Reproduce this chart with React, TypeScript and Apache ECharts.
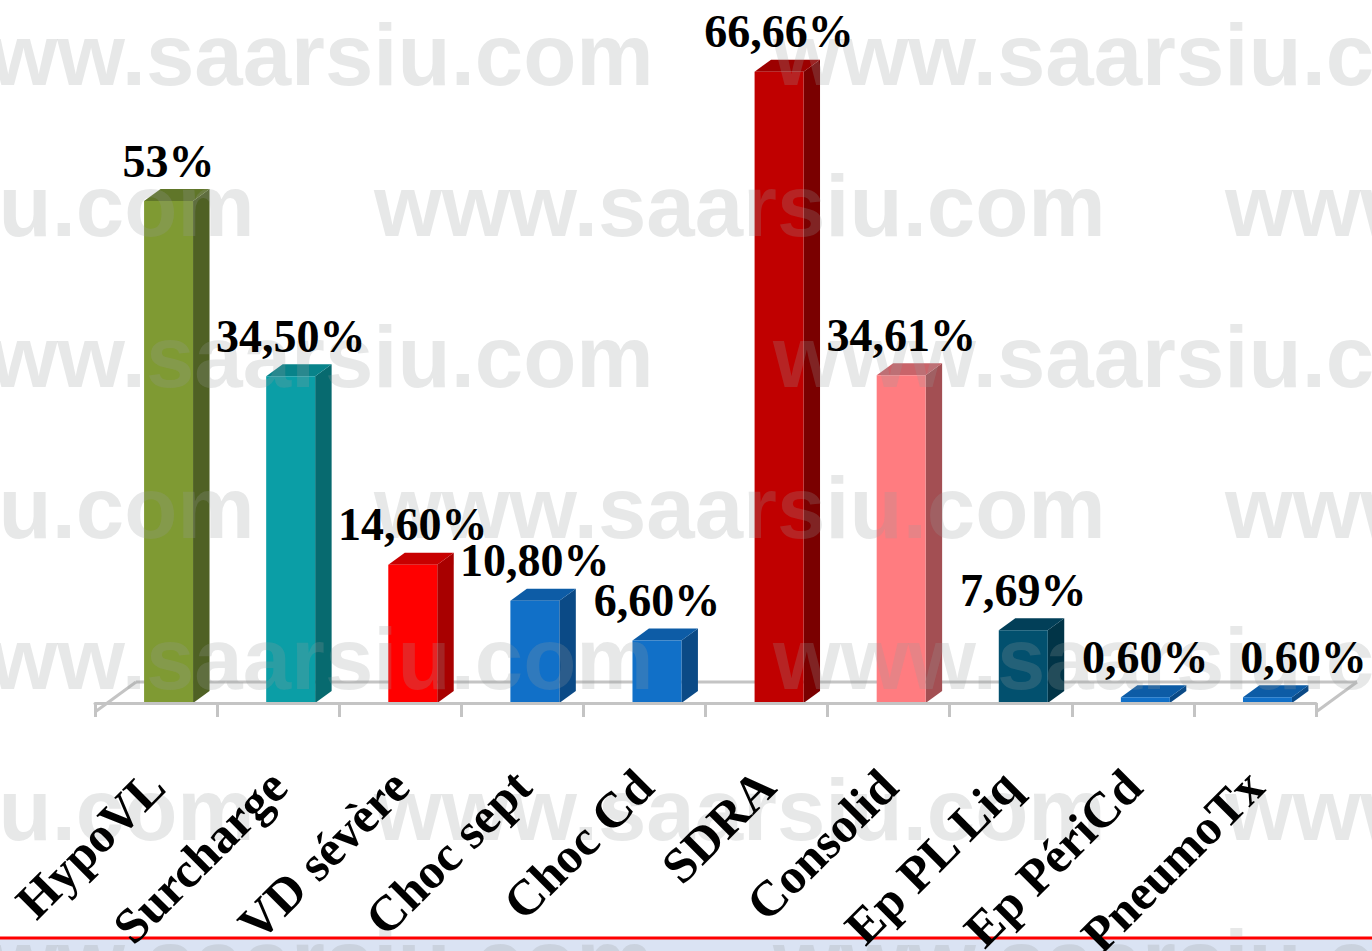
import React, { useEffect, useRef } from "react";
import * as echarts from "echarts";

const categories = [
  "HypoVL",
  "Surcharge",
  "VD sévère",
  "Choc sept",
  "Choc Cd",
  "SDRA",
  "Consolid",
  "Ep PL Liq",
  "Ep PériCd",
  "PneumoTx",
];
const percentages = [53, 34.5, 14.6, 10.8, 6.6, 66.66, 34.61, 7.69, 0.6, 0.6];
const watermarkText = "www.saarsiu.com";

const frontColors = ["#7f9a33", "#0b9ea6", "#ff0000", "#1170c8", "#1170c8", "#c00000", "#ff7c80", "#02506e", "#1170c8", "#1170c8"];
const sideColors = ["#4f6124", "#076a6f", "#a80000", "#0b4a86", "#0b4a86", "#7a0000", "#a34f53", "#013447", "#0b4a86", "#0b4a86"];
const topColors = ["#607629", "#08838a", "#c80000", "#0d5ca6", "#0d5ca6", "#9c0000", "#c9646a", "#023f58", "#0d5ca6", "#0d5ca6"];
// manual horizontal nudge of value labels (last label moved right in the original)
const labelNudge = [0, 0, 0, 0, 0, 0, 0, 0, 0, 36];

const SERIF = '"Liberation Serif", "Times New Roman", serif';

function fmt(v: number): string {
  if (Math.round(v) === v) return `${v}%`;
  return v.toFixed(2).replace(".", ",") + "%";
}

function buildWatermark(): any[] {
  const els: any[] = [];
  const fontSize = 87;
  const period = 851;
  for (let i = 0; i < 7; i++) {
    const baseline = 81 + 151 * i;
    const start = i % 2 === 0 ? -78 : -477;
    for (let x = start; x < 1372; x += period) {
      els.push({
        type: "text",
        x,
        y: baseline - 0.3 * fontSize,
        z: 30,
        silent: true,
        style: {
          text: watermarkText,
          fontSize,
          fontWeight: "bold",
          fontFamily: '"Liberation Sans", Arial, sans-serif',
          fill: "rgba(150,155,155,0.23)",
          align: "left",
          verticalAlign: "middle",
        },
      });
    }
  }
  return els;
}

export default function App() {
  const ref = useRef<HTMLDivElement>(null);
  useEffect(() => {
    if (!ref.current) return;
    const chart = echarts.init(ref.current, null, { renderer: "svg" });
    const FLOOR_DX = 41;
    const FLOOR_DY = 30;
    const AXIS_OFFSET = 9;
    const DEPTH_DY = 12;
    const geom = (api: any) => {
      const idx = api.value(0);
      const val = api.value(1);
      const base = api.coord([idx, 0]);
      const topP = api.coord([idx, val]);
      const bw = api.size([1, 0])[0];
      const fl = base[0] - 0.098 * bw;
      const w = 0.401 * bw;
      return { val, y0: base[1], y1: topP[1], fl, w, fr: fl + w, dx: 0.135 * bw };
    };
    const option: any = {
      animation: false,
      backgroundColor: "#ffffff",
      grid: { left: 95, right: 56, top: 40, bottom: 248, containLabel: false, outerBoundsMode: "none" },
      xAxis: {
        type: "category",
        data: categories,
        boundaryGap: true,
        offset: AXIS_OFFSET,
        z: 60,
        axisLine: { show: true, lineStyle: { color: "#c4c4c4", width: 3 } },
        axisTick: { show: true, length: 14, interval: 0, lineStyle: { color: "#c4c4c4", width: 3 } },
        axisLabel: {
          interval: 0,
          rotate: 45,
          margin: 66,
          color: "#000",
          fontFamily: SERIF,
          fontWeight: "bold",
          fontSize: 50,
          hideOverlap: false,
        },
        splitLine: { show: false },
      },
      yAxis: { type: "value", min: 0, max: 70, show: false },
      graphic: [
        ...buildWatermark(),
        {
          type: "rect",
          left: 0,
          top: 939,
          z: 20,
          shape: { width: 1372, height: 12 },
          style: { fill: "#dae3f3" },
        },
        {
          type: "line",
          z: 21,
          shape: { x1: 0, y1: 938, x2: 1372, y2: 938 },
          style: { stroke: "#ff0000", lineWidth: 3 },
        },
      ],
      series: [
        {
          type: "custom",
          name: "floor",
          z: 1,
          silent: true,
          data: [[0, 0]],
          renderItem: (params: any, api: any) => {
            const cs = params.coordSys;
            const yb = cs.y + cs.height + AXIS_OFFSET;
            const x0 = cs.x;
            const x1 = cs.x + cs.width;
            const st = { stroke: "#c4c4c4", lineWidth: 3 };
            return {
              type: "group",
              children: [
                { type: "line", shape: { x1: x0 + FLOOR_DX, y1: yb - FLOOR_DY, x2: x1 + FLOOR_DX, y2: yb - FLOOR_DY }, style: st },
                { type: "line", shape: { x1: x0, y1: yb, x2: x0 + FLOOR_DX, y2: yb - FLOOR_DY }, style: st },
                { type: "line", shape: { x1: x1, y1: yb, x2: x1 + FLOOR_DX, y2: yb - FLOOR_DY }, style: st },
              ],
            };
          },
        },
        {
          type: "custom",
          name: "bars",
          z: 2,
          data: percentages.map((v, i) => [i, v]),
          renderItem: (params: any, api: any) => {
            const g = geom(api);
            const i = params.dataIndex;
            const dy = DEPTH_DY;
            return {
              type: "group",
              children: [
                {
                  type: "polygon",
                  shape: { points: [[g.fr, g.y1], [g.fr + g.dx, g.y1 - dy], [g.fr + g.dx, g.y0 - dy], [g.fr, g.y0]] },
                  style: { fill: sideColors[i] },
                },
                {
                  type: "polygon",
                  shape: { points: [[g.fl, g.y1], [g.fl + g.dx, g.y1 - dy], [g.fr + g.dx, g.y1 - dy], [g.fr, g.y1]] },
                  style: { fill: topColors[i] },
                },
                {
                  type: "rect",
                  shape: { x: g.fl, y: g.y1, width: g.w, height: g.y0 - g.y1 },
                  style: { fill: frontColors[i] },
                },
              ],
            };
          },
        },
        {
          type: "custom",
          name: "labels",
          z: 60,
          silent: true,
          data: percentages.map((v, i) => [i, v]),
          renderItem: (params: any, api: any) => {
            const g = geom(api);
            const i = params.dataIndex;
            return {
              type: "text",
              x: g.fl + g.w / 2 + labelNudge[i],
              y: g.y1 - DEPTH_DY - 28,
              style: {
                text: fmt(g.val),
                fill: "#000",
                fontFamily: SERIF,
                fontWeight: "bold",
                fontSize: 46,
                align: "center",
                verticalAlign: "middle",
              },
            };
          },
        },
      ],
    };
    chart.setOption(option);
    return () => chart.dispose();
  }, []);
  return (
    <div
      ref={ref}
      style={{ position: "fixed", left: 0, top: 0, width: 1372, height: 951, background: "#fff" }}
    />
  );
}
